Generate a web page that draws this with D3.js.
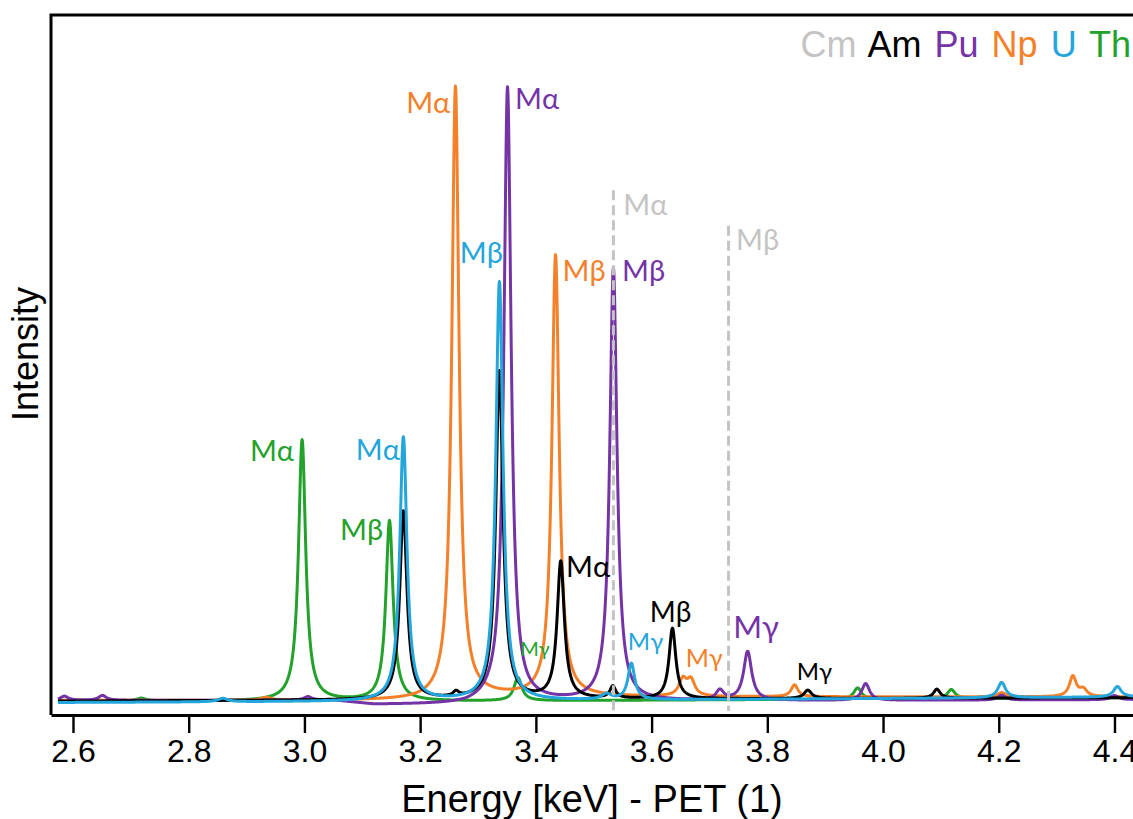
<!DOCTYPE html>
<html>
<head>
<meta charset="utf-8">
<script src="https://cdn.jsdelivr.net/npm/d3@7"></script>
<style>
  body { margin: 0; background: #fff; }
  svg { display: block; }
</style>
</head>
<body>
<svg id="chart" width="1133" height="819"></svg>
<script>
// ---- data (energy in keV, intensity in arbitrary units) ----
var elementOrder = ["Th", "Np", "Pu", "Am", "U"];   // drawing order, bottom to top
var legendNames = ["Cm", "Am", "Pu", "Np", "U", "Th"];
var colors = { Cm: "#c4c4c4", Am: "#000000", Pu: "#7434a6", Np: "#f4812a", U: "#24a6dd", Th: "#22a22b" };

// peak centres, heights above background, half widths
var thE = [2.718, 2.996, 3.147, 3.369, 3.956, 4.118];
var thH = [0.4, 37.4, 25.8, 3.3, 1.6, 1.3];
var thW = [0.010, 0.0075, 0.0075, 0.008, 0.008, 0.008];

var uE = [2.859, 3.171, 3.337, 3.522, 3.565, 4.205, 4.405];
var uH = [0.5, 37.8, 60.0, 0.8, 5.2, 2.2, 1.5];
var uW = [0.010, 0.0075, 0.0075, 0.010, 0.007, 0.008, 0.008];

var npE = [2.934, 3.261, 3.434, 3.654, 3.668, 3.847, 4.205, 4.328, 4.346];
var npH = [0.4, 87.6, 63.2, 2.3, 2.2, 1.7, 0.6, 2.9, 1.0];
var npW = [0.010, 0.0075, 0.0075, 0.008, 0.008, 0.007, 0.008, 0.007, 0.008];

var puE = [2.585, 2.651, 3.006, 3.351, 3.534, 3.718, 3.766, 3.970, 4.205, 4.400];
var puH = [0.6, 0.7, 0.5, 88.0, 62.0, 1.4, 7.0, 2.4, 0.7, 0.6];
var puW = [0.008, 0.008, 0.008, 0.0075, 0.0075, 0.008, 0.0084, 0.008, 0.008, 0.008];

var amE = [3.171, 3.262, 3.337, 3.443, 3.533, 3.636, 3.870, 4.093];
var amH = [27.0, 0.7, 47.0, 19.6, 1.7, 10.1, 1.2, 1.3];
var amW = [0.0075, 0.006, 0.0075, 0.0075, 0.006, 0.007, 0.008, 0.007];

// background levels [energy, intensity]
var thBase = [[2.574, 1.7], [3.3, 1.7], [4.432, 2.2]];
var uBase  = [[2.574, 1.5], [3.3, 1.7], [4.432, 2.3]];
var npBase = [[2.574, 1.8], [3.2, 1.8], [3.3, 2.3], [4.432, 2.3]];
var puBase = [[2.574, 1.8], [3.05, 1.8], [3.12, 1.2], [3.28, 1.2], [3.32, 1.6], [4.432, 1.9]];
var amBase = [[2.574, 1.7], [3.3, 1.9], [4.432, 2.2]];

// Cm: only reference lines
var cmE = [3.534, 3.733];
var cmI = [74.9, 69.8];

var spectra = {
  Th: { e: thE, h: thH, w: thW, base: thBase },
  U:  { e: uE,  h: uH,  w: uW,  base: uBase },
  Np: { e: npE, h: npH, w: npW, base: npBase },
  Pu: { e: puE, h: puH, w: puW, base: puBase },
  Am: { e: amE, h: amH, w: amW, base: amBase }
};

// peak labels: text, element, energy, intensity (baseline of text), anchor, size
var labels = [
  ["Mα", "Th", 2.982, 36.1, "end", 29],
  ["Mβ", "Th", 3.136, 24.8, "end", 29],
  ["Mα", "U",  3.165, 36.2, "end", 29],
  ["Mα", "Np", 3.252, 85.9, "end", 29],
  ["Mα", "Pu", 3.364, 86.6, "start", 29],
  ["Mα", "Cm", 3.551, 71.4, "start", 29],
  ["Mβ", "U",  3.343, 64.5, "end", 29],
  ["Mβ", "Np", 3.446, 61.9, "start", 29],
  ["Mβ", "Pu", 3.549, 61.9, "start", 29],
  ["Mβ", "Cm", 3.746, 66.3, "start", 29],
  ["Mα", "Am", 3.452, 19.5, "start", 29],
  ["Mβ", "Am", 3.597, 13.0, "start", 28],
  ["Mγ", "Th", 3.373, 8.2, "start", 20],
  ["Mγ", "U",  3.559, 9.0, "start", 24],
  ["Mγ", "Np", 3.659, 6.6, "start", 25],
  ["Mγ", "Pu", 3.741, 10.7, "start", 31],
  ["Mγ", "Am", 3.851, 4.7, "start", 24]
];

var majorTicks = [2.6, 2.8, 3.0, 3.2, 3.4, 3.6, 3.8, 4.0, 4.2, 4.4];
var minorTicks = d3.range(2.56, 4.44, 0.02).map(function(v){ return +v.toFixed(2); });

var xLabel = "Energy [keV] - PET (1)";
var yLabel = "Intensity";

// ---- drawing ----
(function draw() {
  var svg = d3.select("#chart");
  var pLeft = 51, pTop = 15, pRight = 1133, pBottom = 715;

  var x = d3.scaleLinear().domain([2.562, 4.432]).range([pLeft, pRight]);
  var y = d3.scaleLinear().domain([0, 100]).range([713, pTop]);

  svg.append("defs").append("clipPath").attr("id", "plotclip")
    .append("rect").attr("x", pLeft + 1.5).attr("y", pTop + 1.5)
    .attr("width", pRight - pLeft).attr("height", pBottom - pTop - 2);

  function background(base, e) {
    for (var i = 1; i < base.length; i++) {
      if (e <= base[i][0]) {
        var t = (e - base[i-1][0]) / (base[i][0] - base[i-1][0]);
        return base[i-1][1] + t * (base[i][1] - base[i-1][1]);
      }
    }
    return base[base.length - 1][1];
  }

  // evaluate the peak list at fine energy steps (Lorentzian line shape)
  var grid = d3.range(2.574, 4.433, 0.0005);
  function profile(s) {
    return grid.map(function(e) {
      var v = background(s.base, e);
      for (var i = 0; i < s.e.length; i++) {
        var d = (e - s.e[i]) / s.w[i];
        v += s.h[i] / (1 + d * d);
      }
      return [e, v];
    });
  }

  var line = d3.line()
    .x(function(d){ return x(d[0]); })
    .y(function(d){ return y(d[1]); });

  var plot = svg.append("g").attr("clip-path", "url(#plotclip)");

  elementOrder.forEach(function(name) {
    plot.append("path")
      .datum(profile(spectra[name]))
      .attr("fill", "none")
      .attr("stroke", colors[name])
      .attr("stroke-width", 3)
      .attr("stroke-linejoin", "round")
      .attr("d", line);
  });

  // Cm reference lines (dashed)
  plot.selectAll(".cm")
    .data(cmE)
    .enter()
    .append("line")
    .attr("class", "cm")
    .attr("x1", function(d){ return x(d); })
    .attr("x2", function(d){ return x(d); })
    .attr("y1", function(d, i){ return y(cmI[i]); })
    .attr("y2", y(0) - 2)
    .attr("stroke", colors.Cm)
    .attr("stroke-width", 3)
    .attr("stroke-dasharray", "10,5");

  // frame
  svg.append("path")
    .attr("d", "M" + pLeft + "," + pBottom + "V" + pTop + "H" + pRight)
    .attr("fill", "none")
    .attr("stroke", "#000")
    .attr("stroke-width", 3);

  // x axis
  var axisG = svg.append("g").attr("transform", "translate(0," + pBottom + ")");
  axisG.call(d3.axisBottom(x).tickValues(minorTicks).tickSize(9).tickSizeOuter(0).tickFormat(""));
  axisG.call(d3.axisBottom(x).tickValues(majorTicks).tickSize(18).tickSizeOuter(0)
    .tickFormat(d3.format(".1f")));
  axisG.selectAll(".domain").attr("stroke-width", 3).attr("stroke", "#000");
  axisG.selectAll(".tick line").attr("stroke-width", 2.4).attr("stroke", "#000");
  axisG.selectAll(".tick text")
    .attr("font-family", "'Liberation Sans', Arial, sans-serif")
    .attr("font-size", 32)
    .attr("fill", "#000")
    .attr("dy", null)
    .attr("y", 47);

  // axis titles
  svg.append("text")
    .attr("x", (pLeft + pRight) / 2)
    .attr("y", 812)
    .attr("text-anchor", "middle")
    .attr("font-family", "'Liberation Sans', Arial, sans-serif")
    .attr("font-size", 38)
    .text(xLabel);

  svg.append("text")
    .attr("transform", "translate(38,354) rotate(-90)")
    .attr("text-anchor", "middle")
    .attr("font-family", "'Liberation Sans', Arial, sans-serif")
    .attr("font-size", 36)
    .text(yLabel);

  // legend
  var legend = svg.append("text")
    .attr("x", 1131)
    .attr("y", 57)
    .attr("text-anchor", "end")
    .attr("font-family", "'Liberation Sans', Arial, sans-serif")
    .attr("font-size", 36)
    .attr("word-spacing", 3);
  legendNames.forEach(function(n, i) {
    legend.append("tspan")
      .attr("fill", colors[n])
      .text((i > 0 ? " " : "") + n);
  });

  // peak labels
  svg.selectAll(".plabel")
    .data(labels)
    .enter()
    .append("text")
    .attr("class", "plabel")
    .attr("x", function(d){ return x(d[2]); })
    .attr("y", function(d){ return y(d[3]); })
    .attr("text-anchor", function(d){ return d[4]; })
    .attr("font-family", "Lato, 'Open Sans', sans-serif")
    .attr("font-size", function(d){ return d[5]; })
    .attr("fill", function(d){ return colors[d[1]]; })
    .text(function(d){ return d[0]; });
})();
</script>
</body>
</html>
